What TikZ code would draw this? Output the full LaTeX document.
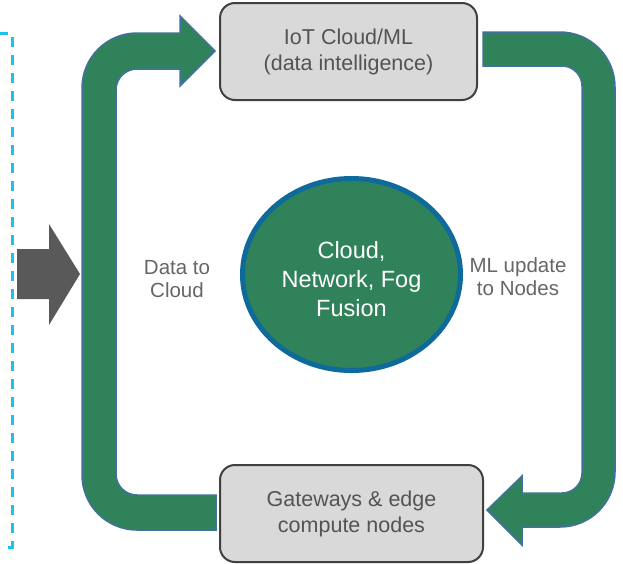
\documentclass[tikz,border=0pt]{standalone}
\usepackage{fontspec}
\setmainfont{Liberation Sans}
\usetikzlibrary{shapes.geometric}
\definecolor{flowgreen}{HTML}{30825A}
\definecolor{flowedge}{HTML}{41719C}
\definecolor{ringblue}{HTML}{0E6A9B}
\definecolor{boxgray}{HTML}{D9D9D9}
\definecolor{boxedge}{HTML}{404040}
\definecolor{feedgray}{HTML}{595959}
\definecolor{dashcyan}{HTML}{1CC2EC}
\tikzset{
    stage box/.style = {
        draw = boxedge,
        line width = 2pt,
        fill = boxgray,
        rounded corners = 15pt,
        align = center,
        text = boxedge!90,
        inner sep = 0pt,
        font = \fontsize{21.5}{26}\selectfont,
        },
    fusion/.style = {
        ellipse,
        draw = ringblue,
        line width = 5pt,
        fill = flowgreen,
        inner sep = 0pt,
        minimum width = 218pt,
        minimum height = 192pt,
        },
    fusion text/.style = {
        text = white,
        align = center,
        font = \fontsize{23.5}{29}\selectfont,
        },
    flow label/.style = {
        align = center,
        text = black!60,
        font = \fontsize{20.5}{23}\selectfont,
        },
    flow arrow/.style = {
        fill = flowgreen,
        draw = flowedge,
        line width = 1.5pt,
        line join = miter,
        },
    feed arrow/.style = {
        fill = feedgray,
        },
    source frame/.style = {
        draw = dashcyan,
        line width = 3pt,
        dash pattern = on 10pt off 8pt,
        },
}

\begin{document}
\begin{tikzpicture}[x=1pt, y=-1pt]
            \useasboundingbox (0,0) rectangle (623,563);

            \draw[source frame] (-2,33) -- (12,33) -- (12,547) -- (-5,547);
            \fill[feed arrow] (17,249) -- (49,249) -- (49,224) -- (80,274)
                -- (49,325) -- (49,299) -- (17,299) -- cycle;

            % data going up to the cloud
            \draw[flow arrow] (216,530) -- (137,530)
                .. controls (106.6,530) and (82,505.4) .. (82,475) -- (82,88)
                .. controls (82,57.6) and (106.6,33) .. (137,33)
                -- (180,33) -- (180,16) -- (215,51) -- (180,86) -- (180,69) -- (137,69)
                .. controls (125.4,69) and (116,78.4) .. (116,90) -- (116,474)
                .. controls (116,485.6) and (125.4,495) .. (137,495) -- (216,495) -- cycle;

            % model updates coming back down
            \draw[flow arrow] (483,32) -- (560,32)
                .. controls (590.4,32) and (615,56.6) .. (615,87) -- (615,472)
                .. controls (615,502.4) and (590.4,527) .. (560,527)
                -- (522,527) -- (522,545) -- (487,510) -- (522,476) -- (522,493) -- (562,493)
                .. controls (573,493) and (582,484) .. (582,473) -- (582,86)
                .. controls (582,75) and (573,66) .. (562,66) -- (483,66) -- cycle;

            \node[stage box, minimum width=257pt, minimum height=97pt] (cloud) at (348.5,51.5)
                {IoT Cloud/ML\\(data intelligence)};
            \node[stage box, minimum width=263pt, minimum height=97pt] (gateway) at (351.5,513.5)
                {Gateways \& edge\\compute nodes};
            \node[fusion, label={[fusion text, yshift=-5pt]center:Cloud,\\Network, Fog\\Fusion}]
                (core) at (351.5,274.5) {};

            \node[flow label] (up) at (177,279) {Data to\\Cloud};
            \node[flow label] (down) at (518,277) {ML update\\to Nodes};
        \end{tikzpicture}
\end{document}
